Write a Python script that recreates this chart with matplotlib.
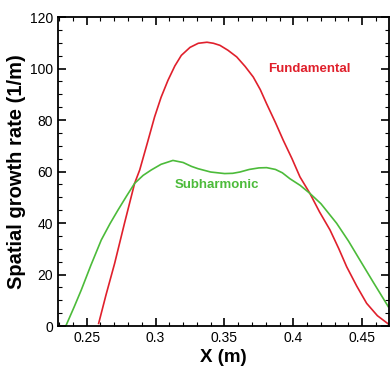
import matplotlib.pyplot as plt
from matplotlib.ticker import MultipleLocator

plt.rcParams["font.family"] = ["Liberation Sans", "DejaVu Sans"]

# values
fundX = [0.2587, 0.2640, 0.2703, 0.2775, 0.2848, 0.2885, 0.2940, 0.2993, 0.3040, 0.3090, 0.3140,
         0.3187, 0.3250, 0.3310, 0.3373, 0.3420, 0.3467, 0.3525, 0.3589, 0.3650, 0.3709, 0.3760,
         0.3806, 0.3870, 0.3927, 0.3990, 0.4048, 0.4120, 0.4190, 0.4266, 0.4330, 0.4387, 0.4460,
         0.4532, 0.4610, 0.4689]
fundY = [1.0, 12.0, 24.3, 40.0, 55.4, 60.6, 71.0, 81.2, 88.8, 95.4, 101.0,
         105.1, 108.2, 109.8, 110.2, 109.8, 109.0, 107.1, 104.5, 100.8, 96.7, 91.8,
         86.3, 79.0, 72.1, 65.0, 57.9, 51.5, 44.3, 37.3, 30.0, 23.0, 15.5,
         8.8, 4.0, 0.8]

subX = [0.2352, 0.2410, 0.2461, 0.2530, 0.2606, 0.2670, 0.2727, 0.2790, 0.2848, 0.2910, 0.2969,
        0.3040, 0.3126, 0.3200, 0.3260, 0.3308, 0.3400, 0.3501, 0.3560, 0.3612, 0.3680, 0.3750,
        0.3806, 0.3870, 0.3920, 0.3975, 0.4050, 0.4120, 0.4200, 0.4314, 0.4400, 0.4483, 0.4580,
        0.4689]
subY = [0.4, 7.5, 14.0, 23.5, 33.4, 39.8, 45.0, 50.5, 55.4, 58.5, 60.6,
        62.8, 64.3, 63.5, 62.0, 61.1, 59.8, 59.2, 59.3, 59.8, 60.8, 61.4,
        61.5, 60.8, 59.5, 57.2, 54.6, 51.5, 47.5, 39.9, 33.0, 25.6, 17.0,
        7.5]

fig = plt.figure(figsize=(3.9, 3.68), dpi=100)
ax = fig.add_axes([0.1487, 0.1141, 0.8487, 0.8397])

red = '#e0202c'
green = '#4cbb3a'
ax.plot(fundX, fundY, color=red, linewidth=1.2)
ax.plot(subX, subY, color=green, linewidth=1.2)

ax.text(0.4116, 100, 'Fundamental', color=red, fontsize=9.5, fontweight='bold',
        ha='center', va='center')
ax.text(0.3445, 54.8, 'Subharmonic', color=green, fontsize=9.5, fontweight='bold',
        ha='center', va='center')

ax.set_xlim(0.2292, 0.4694)
ax.set_ylim(0, 120)
ax.xaxis.set_minor_locator(MultipleLocator(0.01))
ax.yaxis.set_major_locator(MultipleLocator(20))
ax.yaxis.set_minor_locator(MultipleLocator(5))
ax.set_xticks([0.25, 0.3, 0.35, 0.4, 0.45])
ax.set_xticklabels(['0.25', '0.3', '0.35', '0.4', '0.45'])
ax.tick_params(which='both', direction='in', top=True, right=True, labelsize=10, width=1.2)
ax.tick_params(which='major', length=6)
ax.tick_params(which='minor', length=3, width=0.8)
for s in ax.spines.values():
    s.set_linewidth(1.3)

ax.set_xlabel('X (m)', fontsize=13.5, fontweight='bold', labelpad=3)
ax.set_ylabel('Spatial growth rate (1/m)', fontsize=14.5, fontweight='bold', labelpad=3)

fig.savefig('out.png', dpi=100)
